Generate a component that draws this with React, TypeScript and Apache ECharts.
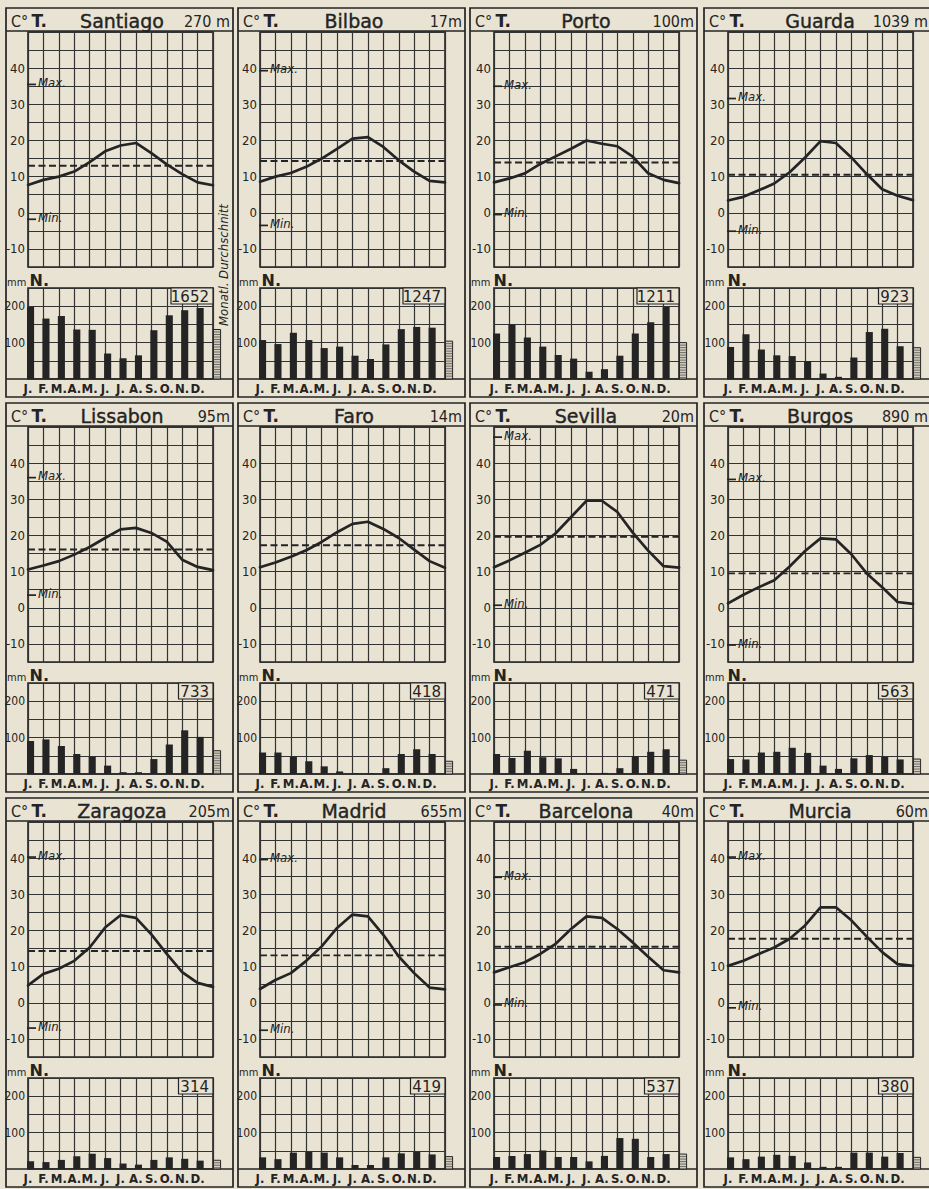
import React, { useEffect, useRef } from "react";
import * as echarts from "echarts";

// ---------- data ----------
const STATIONS = ["Santiago", "Bilbao", "Porto", "Guarda", "Lissabon", "Faro", "Sevilla", "Burgos", "Zaragoza", "Madrid", "Barcelona", "Murcia"];
const ELEVATIONS = ["270 m", "17m", "100m", "1039 m", "95m", "14m", "20m", "890 m", "205m", "655m", "40m", "60m"];
const MONTHS = ["J.", "F.", "M.", "A.", "M.", "J.", "J.", "A.", "S.", "O.", "N.", "D."];
const T_TICK_LABELS = [-10, 0, 10, 20, 30, 40];
const P_TICK_LABELS = [100, 200];

// monthly temperature curve (13 points, Jan ... Dec, Jan)
const T_SANTIAGO = [7.7, 9.1, 10.0, 11.4, 14.0, 17.0, 18.6, 19.3, 16.5, 13.4, 10.7, 8.4, 7.6];
const T_BILBAO = [8.6, 10.0, 11.0, 12.7, 15.0, 17.7, 20.5, 20.9, 18.2, 14.5, 11.4, 8.8, 8.4];
const T_PORTO = [8.4, 9.5, 10.9, 13.5, 15.6, 17.7, 20.0, 19.1, 18.4, 15.5, 10.9, 9.1, 8.2];
const T_GUARDA = [3.4, 4.4, 6.2, 8.1, 11.2, 15.3, 19.8, 19.3, 15.3, 10.7, 6.5, 4.7, 3.5];
const T_LISSABON = [10.6, 11.7, 12.9, 14.7, 16.8, 19.3, 21.7, 22.1, 20.7, 18.3, 13.3, 11.3, 10.4];
const T_FARO = [11.2, 12.5, 14.1, 15.9, 18.2, 20.9, 23.2, 23.8, 21.8, 19.3, 16.1, 12.9, 11.1];
const T_SEVILLA = [11.2, 13.1, 15.2, 17.4, 20.6, 25.1, 29.6, 29.6, 26.5, 20.8, 15.8, 11.5, 11.1];
const T_BURGOS = [1.2, 3.6, 5.7, 7.6, 11.4, 15.7, 19.2, 18.9, 14.8, 9.5, 5.7, 1.6, 1.1];
const T_ZARAGOZA = [4.8, 8.0, 9.4, 11.6, 15.3, 20.8, 24.2, 23.5, 18.9, 13.5, 8.5, 5.5, 4.4];
const T_MADRID = [3.8, 6.3, 8.2, 11.6, 15.6, 20.7, 24.4, 23.9, 18.8, 12.8, 8.2, 4.2, 3.7];
const T_BARCELONA = [8.4, 9.8, 11.2, 13.5, 16.3, 20.4, 23.9, 23.5, 20.4, 16.7, 12.7, 9.0, 8.4];
const T_MURCIA = [10.2, 11.6, 13.5, 15.3, 17.7, 21.4, 26.4, 26.4, 22.8, 18.3, 14.0, 10.7, 10.2];

// monthly precipitation, mm
const P_SANTIAGO = [198, 166, 173, 136, 135, 70, 57, 65, 134, 175, 189, 195];
const P_BILBAO = [107, 96, 127, 107, 85, 89, 64, 55, 95, 137, 143, 141];
const P_PORTO = [125, 150, 114, 89, 66, 56, 20, 27, 64, 125, 156, 198];
const P_GUARDA = [88, 123, 81, 65, 63, 49, 15, 6, 59, 129, 138, 90];
const P_LISSABON = [91, 95, 77, 55, 47, 23, 5, 5, 41, 81, 120, 102];
const P_FARO = [59, 59, 48, 35, 21, 7, 2, 2, 16, 55, 68, 55];
const P_SEVILLA = [55, 44, 64, 46, 43, 14, 2, 3, 16, 49, 61, 68];
const P_BURGOS = [41, 40, 59, 61, 72, 58, 23, 14, 43, 52, 47, 40];
const P_ZARAGOZA = [21, 19, 25, 35, 42, 30, 15, 12, 25, 32, 28, 23];
const P_MADRID = [32, 27, 45, 47, 45, 32, 11, 11, 32, 43, 47, 40];
const P_BARCELONA = [33, 36, 41, 51, 33, 33, 21, 36, 85, 83, 33, 41];
const P_MURCIA = [32, 27, 34, 39, 36, 18, 6, 6, 45, 45, 34, 44];

const MEAN_TEMP = [13.0, 14.3, 13.9, 10.5, 16.1, 17.3, 19.6, 9.5, 14.3, 13.1, 15.5, 17.7];
const MAX_TEMP = [35.5, 39.3, 35.0, 31.6, 36.0, null, 47.2, 35.5, 40.3, 39.6, 34.7, 40.3];
const MIN_TEMP = [-1.8, -3.5, -0.5, -5.1, 3.5, null, 0.7, -10.3, -7.0, -7.6, -0.6, -1.4];
const TOTAL_PRECIP = [1652, 1247, 1211, 923, 733, 418, 471, 563, 314, 419, 537, 380];
const MONTHLY_AVG = [136, 104, 100, 86, 64, 35, 38, 41, 24, 34, 41, 32];

const TEMPS = [T_SANTIAGO, T_BILBAO, T_PORTO, T_GUARDA, T_LISSABON, T_FARO, T_SEVILLA, T_BURGOS, T_ZARAGOZA, T_MADRID, T_BARCELONA, T_MURCIA];
const PRECIPS = [P_SANTIAGO, P_BILBAO, P_PORTO, P_GUARDA, P_LISSABON, P_FARO, P_SEVILLA, P_BURGOS, P_ZARAGOZA, P_MADRID, P_BARCELONA, P_MURCIA];

// ---------- layout / style ----------
const PAPER = "#e9e3d3";
const INK = "#242424";
const GRIDC = "#333333";
const COND = "'DejaVu Sans Condensed', 'Liberation Sans Narrow', 'DejaVu Sans', sans-serif";
const SANS = "'DejaVu Sans', 'Liberation Sans', sans-serif";

const PANEL_LEFT = [6, 238, 470, 704];
const PANEL_W = 227;
const GRID_LEFT = [28, 260, 494, 728];
const GRID_W = 185;
const PANEL_TOP = [8, 403, 798];
const PANEL_H = 389;

function buildOption() {
  const grids: any[] = [];
  const xAxes: any[] = [];
  const yAxes: any[] = [];
  const series: any[] = [];
  const graphics: any[] = [];

  STATIONS.forEach((name, k) => {
    const col = k % 4;
    const row = Math.floor(k / 4);
    const pl = PANEL_LEFT[col];
    const pt = PANEL_TOP[row];
    const gl = GRID_LEFT[col];
    const gi = grids.length;

    grids.push({ left: gl, top: pt + 24, width: GRID_W, height: 235, show: true, borderColor: INK, borderWidth: 1.6, backgroundColor: "transparent" });
    grids.push({ left: gl, top: pt + 280, width: GRID_W, height: 91, show: true, borderColor: INK, borderWidth: 1.6, backgroundColor: "transparent" });

    xAxes.push({
      gridIndex: gi, type: "value", min: 0, max: 12, interval: 1,
      axisLine: { show: false }, axisTick: { show: false }, axisLabel: { show: false },
      splitLine: { show: true, lineStyle: { color: GRIDC, width: 1.2 } },
    });
    yAxes.push({
      gridIndex: gi, type: "value", min: -15, max: 50, interval: 5,
      axisLine: { show: false }, axisTick: { show: false },
      axisLabel: {
        margin: 3, color: INK, fontSize: 13, fontFamily: COND,
        formatter: (v: number) => (T_TICK_LABELS.indexOf(v) >= 0 ? String(v) : ""),
      },
      splitLine: { show: true, lineStyle: { color: GRIDC, width: 1.2 } },
    });
    xAxes.push({
      gridIndex: gi + 1, type: "value", min: 0, max: 12, interval: 1,
      axisLine: { show: false }, axisTick: { show: false },
      axisLabel: {
        margin: 3, color: INK, fontSize: 13, fontWeight: "bold", fontFamily: COND,
        formatter: (v: number) => (v >= 0 && v < 12 ? MONTHS[v] : ""),
      },
      splitLine: { show: true, lineStyle: { color: GRIDC, width: 1.2 } },
    });
    yAxes.push({
      gridIndex: gi + 1, type: "value", min: 0, max: 250, interval: 50,
      axisLine: { show: false }, axisTick: { show: false },
      axisLabel: {
        margin: 3, color: INK, fontSize: 12, fontFamily: COND,
        formatter: (v: number) => (P_TICK_LABELS.indexOf(v) >= 0 ? String(v) : ""),
      },
      splitLine: { show: true, lineStyle: { color: GRIDC, width: 1.2 } },
    });

    // mean temperature (dashed)
    const mean = MEAN_TEMP[k];
    series.push({
      type: "line", xAxisIndex: gi, yAxisIndex: gi, silent: true, symbol: "none",
      data: [[0, mean], [12, mean]],
      lineStyle: { color: INK, width: 1.9, type: [7, 3.5] },
      z: 3,
    });
    // temperature curve
    series.push({
      type: "line", xAxisIndex: gi, yAxisIndex: gi, silent: true, symbol: "none",
      data: TEMPS[k].map((t, i) => [i, t]),
      lineStyle: { color: INK, width: 2.7, join: "round", cap: "round" },
      z: 4,
    });
    // Max / Min markers
    const markers: { v: number; label: string }[] = [];
    if (MAX_TEMP[k] != null) markers.push({ v: MAX_TEMP[k] as number, label: "Max." });
    if (MIN_TEMP[k] != null) markers.push({ v: MIN_TEMP[k] as number, label: "Min." });
    if (markers.length) {
      series.push({
        type: "custom", xAxisIndex: gi, yAxisIndex: gi, silent: true, clip: false, z: 5,
        data: markers.map((m) => [0, m.v]),
        renderItem: (params: any, api: any) => {
          const p = api.coord([api.value(0), api.value(1)]);
          const lab = markers[params.dataIndex].label;
          return {
            type: "group",
            children: [
              { type: "line", shape: { x1: p[0] - 1, y1: p[1], x2: p[0] + 8, y2: p[1] }, style: { stroke: INK, lineWidth: 1.7 } },
              {
                type: "text", x: p[0] + 10, y: p[1] - 2,
                style: { text: lab, fill: INK, font: `italic 13px ${COND}`, align: "left", verticalAlign: "middle", textAlign: "left", textVerticalAlign: "middle" },
              },
            ],
          };
        },
      });
    }

    // precipitation bars + monthly average (hatched)
    const barData: number[][] = PRECIPS[k].map((p, i) => [i, p, 0]);
    barData.push([12, MONTHLY_AVG[k], 1]);
    series.push({
      type: "custom", xAxisIndex: gi + 1, yAxisIndex: gi + 1, silent: true, clip: false, z: 4,
      data: barData,
      renderItem: (params: any, api: any) => {
        const i = api.value(0);
        const v = api.value(1);
        const isAvg = api.value(2) === 1;
        const b = api.coord([i, 0]);
        const t = api.coord([i, v]);
        const w = api.size([1, 0])[0] * 0.46;
        if (!isAvg) {
          return { type: "rect", shape: { x: b[0] - 1, y: t[1], width: w, height: b[1] - t[1] }, style: { fill: INK } };
        }
        const x = b[0] + 0.5;
        const children: any[] = [
          { type: "rect", shape: { x, y: t[1], width: w, height: b[1] - t[1] }, style: { fill: "#d3ccba", stroke: INK, lineWidth: 1 } },
        ];
        for (let yy = t[1] + 2.5; yy < b[1] - 0.5; yy += 2.5) {
          children.push({ type: "line", shape: { x1: x, y1: yy, x2: x + w, y2: yy }, style: { stroke: "#444", lineWidth: 0.7 } });
        }
        return { type: "group", children };
      },
    });

    // annual total box
    const total = TOTAL_PRECIP[k];
    series.push({
      type: "custom", xAxisIndex: gi + 1, yAxisIndex: gi + 1, silent: true, clip: false, z: 6,
      data: [[12, 250]],
      renderItem: (params: any, api: any) => {
        const p = api.coord([api.value(0), api.value(1)]);
        const bw = 12 + String(total).length * 7.5;
        return {
          type: "group",
          children: [
            { type: "rect", shape: { x: p[0] - bw, y: p[1], width: bw, height: 16 }, style: { fill: PAPER, stroke: INK, lineWidth: 1.2 } },
            {
              type: "text", x: p[0] - 4, y: p[1] + 8.5,
              style: { text: String(total), fill: INK, font: `15px ${SANS}`, align: "right", verticalAlign: "middle", textAlign: "right", textVerticalAlign: "middle" },
            },
          ],
        };
      },
    });

    // panel frame and text
    graphics.push({ type: "rect", silent: true, shape: { x: pl, y: pt, width: PANEL_W, height: PANEL_H }, style: { fill: "none", stroke: INK, lineWidth: 1.7 } });
    graphics.push({ type: "line", silent: true, shape: { x1: pl, y1: pt + 23, x2: pl + PANEL_W, y2: pt + 23 }, style: { stroke: INK, lineWidth: 1.5 } });
    graphics.push({ type: "line", silent: true, shape: { x1: pl, y1: pt + 371, x2: pl + PANEL_W, y2: pt + 371 }, style: { stroke: INK, lineWidth: 1.5 } });
    graphics.push({
      type: "text", silent: true, x: pl + 5, y: pt + 13,
      style: {
        text: "{c|C°} {t|T.}", fill: INK, verticalAlign: "middle", textVerticalAlign: "middle",
        rich: {
          c: { fontSize: 16, fontFamily: COND, fill: INK },
          t: { fontSize: 17, fontWeight: "bold", fontFamily: SANS, fill: INK },
        },
      },
    });
    graphics.push({
      type: "text", silent: true, x: pl + 116, y: pt + 13,
      style: { text: name, fill: INK, font: `19px ${SANS}`, align: "center", verticalAlign: "middle", textAlign: "center", textVerticalAlign: "middle", stroke: INK, lineWidth: 0.4 },
    });
    graphics.push({
      type: "text", silent: true, x: pl + PANEL_W - 3, y: pt + 13,
      style: { text: ELEVATIONS[k], fill: INK, font: `16px ${COND}`, align: "right", verticalAlign: "middle", textAlign: "right", textVerticalAlign: "middle" },
    });
    graphics.push({
      type: "text", silent: true, x: pl + 1, y: pt + 272,
      style: {
        text: "{m|mm} {n|N.}", fill: INK, verticalAlign: "middle", textVerticalAlign: "middle",
        rich: {
          m: { fontSize: 11, fontFamily: COND, fill: INK, verticalAlign: "bottom" },
          n: { fontSize: 16, fontWeight: "bold", fontFamily: SANS, fill: INK },
        },
      },
    });
  });

  // "Monatl. Durchschnitt" note in the first panel
  graphics.push({
    type: "text", silent: true, x: 223, y: 265, rotation: Math.PI / 2,
    style: { text: "Monatl. Durchschnitt", fill: INK, font: `italic 13px ${COND}`, align: "center", verticalAlign: "middle", textAlign: "center", textVerticalAlign: "middle" },
  });

  return {
    animation: false,
    backgroundColor: PAPER,
    grid: grids,
    xAxis: xAxes,
    yAxis: yAxes,
    series,
    graphic: { elements: graphics },
  };
}

export default function App() {
  const ref = useRef<HTMLDivElement>(null);
  useEffect(() => {
    document.body.style.margin = "0";
    document.body.style.overflow = "hidden";
    if (!ref.current) return;
    const chart = echarts.init(ref.current, undefined, { renderer: "svg" });
    chart.setOption(buildOption() as any);
    return () => chart.dispose();
  }, []);
  return <div ref={ref} style={{ width: 929, height: 1189 }} />;
}
